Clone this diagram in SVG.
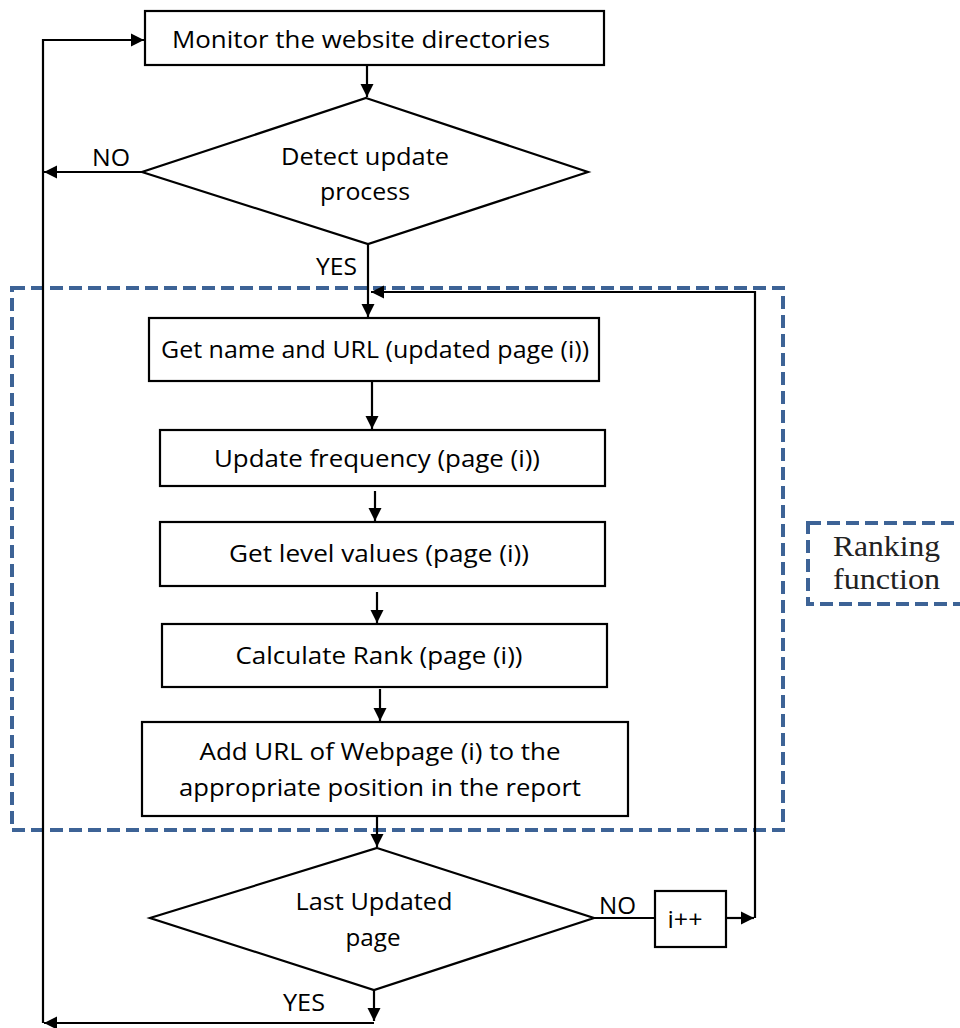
<svg xmlns="http://www.w3.org/2000/svg" width="960" height="1028" viewBox="0 0 960 1028">
  <style>
    .box { fill: #ffffff; stroke: #000000; stroke-width: 2.2; }
    .line { fill: none; stroke: #000000; stroke-width: 2.2; }
    .dash { fill: none; stroke: #3d6396; stroke-width: 4; stroke-dasharray: 13 6; }
    .t { font-family: "Open Sans", "Liberation Sans", sans-serif; font-size: 24px; fill: #000000; text-anchor: middle; }
    .lbl { font-family: "Open Sans", "Liberation Sans", sans-serif; font-size: 24px; fill: #000000; }
    .serif { font-family: "Liberation Serif", "Times New Roman", serif; font-size: 30px; fill: #222222; }
  </style>
  <defs>
    <marker id="arrow" viewBox="0 0 10 10" refX="10" refY="5" markerWidth="6" markerHeight="6" markerUnits="strokeWidth" orient="auto">
      <path d="M0,0 L10,5 L0,10 z" fill="#000000"/>
    </marker>
  </defs>

  <rect width="960" height="1028" fill="#ffffff"/>

  <!-- ranking function frame -->
  <g id="ranking-frame">
    <rect class="dash" x="12" y="288" width="771" height="542"/>
  </g>
  <g id="ranking-label">
    <rect class="dash" x="808" y="523" width="200" height="81"/>
    <text class="serif" x="833" y="556" textLength="107" lengthAdjust="spacingAndGlyphs">Ranking</text>
    <text class="serif" x="833" y="589" textLength="107" lengthAdjust="spacingAndGlyphs">function</text>
  </g>

  <!-- connectors -->
  <g id="connectors">
    <!-- monitor -> detect -->
    <line class="line" x1="367" y1="65" x2="367" y2="97" marker-end="url(#arrow)"/>
    <!-- detect NO -> loop back -->
    <line class="line" x1="142" y1="172" x2="44" y2="172" marker-end="url(#arrow)"/>
    <!-- left return spine -->
    <polyline class="line" points="43,1023 43,40 144,40" marker-end="url(#arrow)"/>
    <!-- detect YES -> get name -->
    <line class="line" x1="368" y1="244" x2="368" y2="317" marker-end="url(#arrow)"/>
    <!-- i++ loop back -->
    <polyline class="line" points="755,918 755,292 371,292" marker-end="url(#arrow)"/>
    <!-- process chain -->
    <line class="line" x1="372" y1="381" x2="372" y2="429" marker-end="url(#arrow)"/>
    <line class="line" x1="375" y1="491" x2="375" y2="521" marker-end="url(#arrow)"/>
    <line class="line" x1="377" y1="592" x2="377" y2="623" marker-end="url(#arrow)"/>
    <line class="line" x1="380" y1="689" x2="380" y2="721" marker-end="url(#arrow)"/>
    <line class="line" x1="377" y1="816" x2="377" y2="847" marker-end="url(#arrow)"/>
    <!-- last page NO -> i++ -->
    <line class="line" x1="594" y1="918" x2="655" y2="918"/>
    <line class="line" x1="726" y1="918" x2="754" y2="918" marker-end="url(#arrow)"/>
    <!-- last page YES -> back to monitor -->
    <line class="line" x1="374" y1="990" x2="374" y2="1021" marker-end="url(#arrow)"/>
    <line class="line" x1="374" y1="1023" x2="44" y2="1023" marker-end="url(#arrow)"/>
    <text class="lbl" x="92" y="166" textLength="38" lengthAdjust="spacingAndGlyphs">NO</text>
    <text class="lbl" x="316" y="275" textLength="41" lengthAdjust="spacingAndGlyphs">YES</text>
    <text class="lbl" x="599" y="914" textLength="37" lengthAdjust="spacingAndGlyphs">NO</text>
    <text class="lbl" x="283" y="1011" textLength="42" lengthAdjust="spacingAndGlyphs">YES</text>
  </g>

  <g id="monitor">
    <rect class="box" x="145" y="11" width="459" height="54"/>
    <text class="t" x="361" y="48" textLength="378" lengthAdjust="spacingAndGlyphs">Monitor the website directories</text>
  </g>

  <g id="detect">
    <polygon class="box" points="366,98 588,172 368,244 142,172"/>
    <text class="t" x="365" y="165" textLength="168" lengthAdjust="spacingAndGlyphs">Detect update</text>
    <text class="t" x="365" y="200" textLength="90" lengthAdjust="spacingAndGlyphs">process</text>
  </g>

  <g id="get-name">
    <rect class="box" x="149" y="318" width="450" height="63"/>
    <text class="t" x="375" y="358" textLength="428" lengthAdjust="spacingAndGlyphs">Get name and URL (updated page (i))</text>
  </g>

  <g id="update-frequency">
    <rect class="box" x="160" y="430" width="445" height="56"/>
    <text class="t" x="377" y="467" textLength="326" lengthAdjust="spacingAndGlyphs">Update frequency (page (i))</text>
  </g>

  <g id="level-values">
    <rect class="box" x="160" y="522" width="445" height="64"/>
    <text class="t" x="379" y="562" textLength="300" lengthAdjust="spacingAndGlyphs">Get level values (page (i))</text>
  </g>

  <g id="calculate-rank">
    <rect class="box" x="162" y="624" width="445" height="63"/>
    <text class="t" x="379" y="664" textLength="287" lengthAdjust="spacingAndGlyphs">Calculate Rank (page (i))</text>
  </g>

  <g id="add-url">
    <rect class="box" x="142" y="722" width="486" height="94"/>
    <text class="t" x="380" y="760" textLength="361" lengthAdjust="spacingAndGlyphs">Add URL of Webpage (i) to the</text>
    <text class="t" x="380" y="796" textLength="402" lengthAdjust="spacingAndGlyphs">appropriate position in the report</text>
  </g>

  <g id="last-updated">
    <polygon class="box" points="377,848 594,918 374,990 150,918"/>
    <text class="t" x="374" y="910" textLength="157" lengthAdjust="spacingAndGlyphs">Last Updated</text>
    <text class="t" x="373" y="946" textLength="55" lengthAdjust="spacingAndGlyphs">page</text>
  </g>

  <g id="increment">
    <rect class="box" x="655" y="891" width="71" height="56"/>
    <text class="t" x="685" y="928" textLength="35" lengthAdjust="spacingAndGlyphs">i++</text>
  </g>
</svg>
